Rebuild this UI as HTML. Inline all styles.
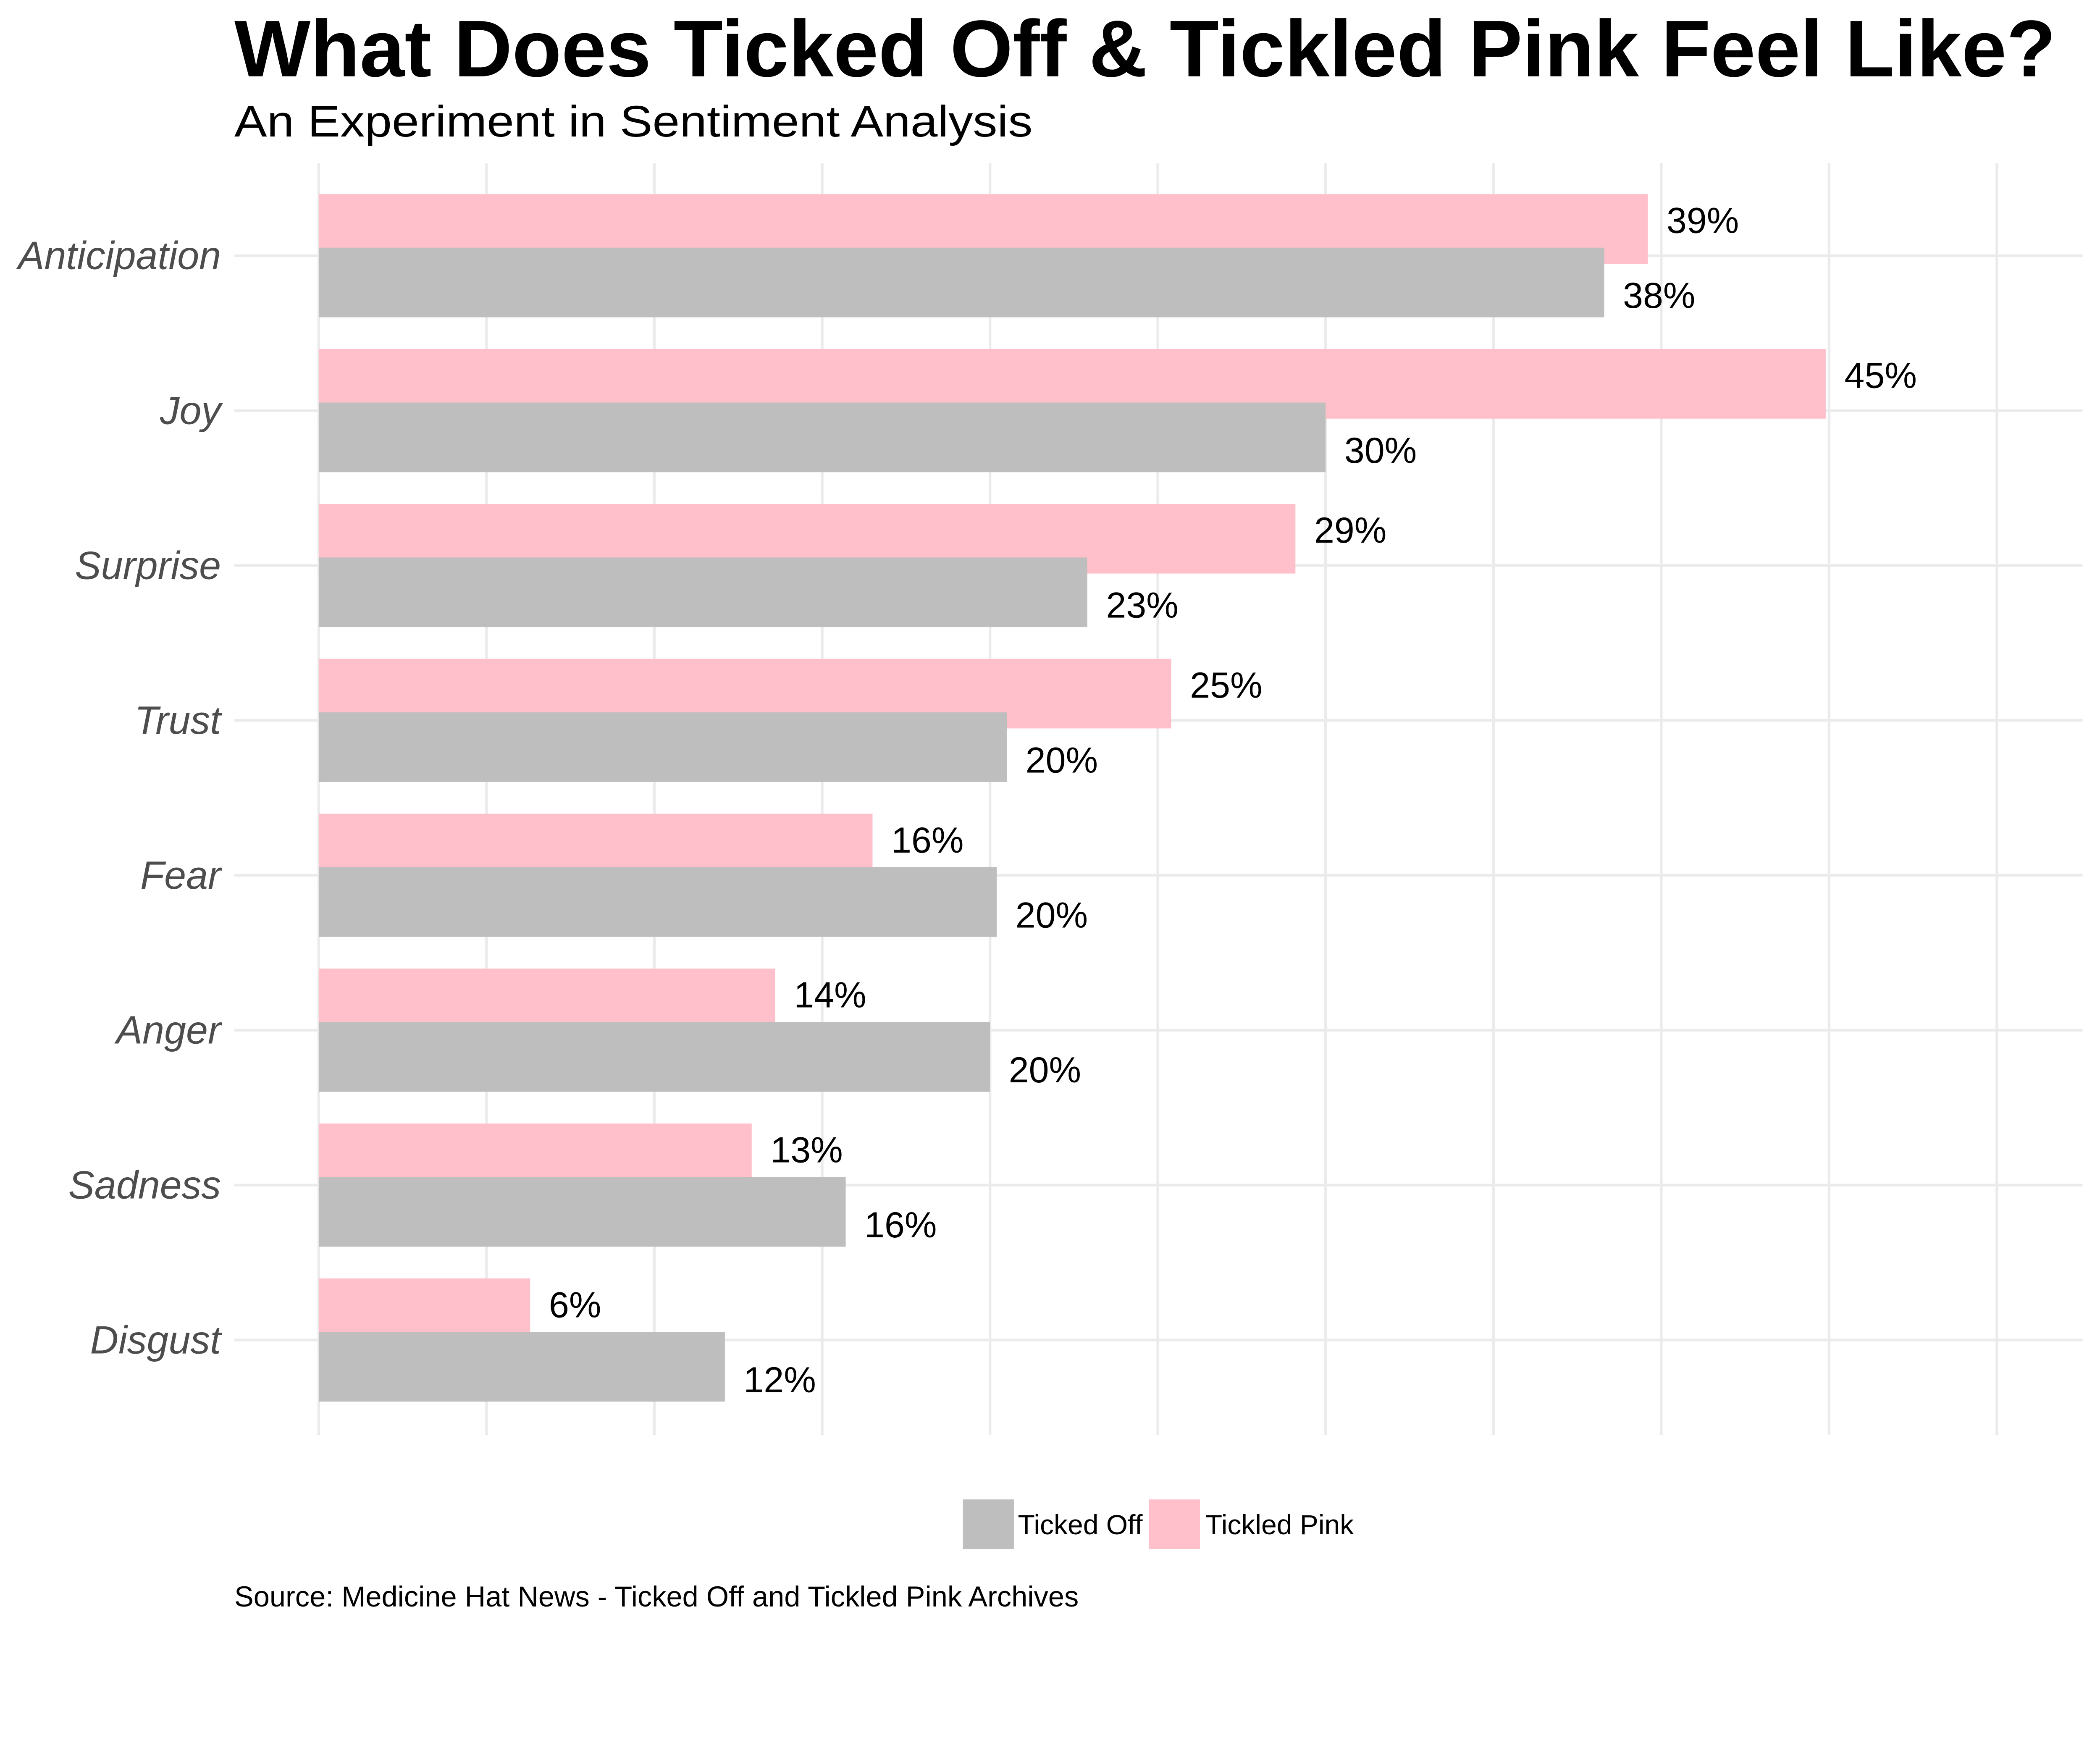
<!DOCTYPE html>
<html><head><meta charset="utf-8"><style>html,body{margin:0;padding:0;background:#fff;overflow:hidden}svg{display:block;width:100vw;height:77.7778vw}</style></head>
<body>
<svg id="chart" viewBox="0 0 1568 1220" preserveAspectRatio="none" xmlns="http://www.w3.org/2000/svg" font-family="'Liberation Sans', Arial, sans-serif">
<rect width="1568" height="1220" fill="#fff"/>
<text x="175" y="57" font-size="60" font-weight="bold" textLength="1360" lengthAdjust="spacingAndGlyphs">What Does Ticked Off &amp; Tickled Pink Feel Like?</text>
<text x="175" y="102" font-size="33" textLength="596" lengthAdjust="spacingAndGlyphs">An Experiment in Sentiment Analysis</text>
<g id="grid"></g>
<g id="bars"></g>
<g id="labels"></g>
<g>
<rect x="719" y="1120" width="38" height="37" fill="#bebebe"/>
<text x="760" y="1146" font-size="20.7">Ticked Off</text>
<rect x="858" y="1120" width="38" height="37" fill="#ffc0cb"/>
<text x="900" y="1146" font-size="20.7">Tickled Pink</text>
</g>
<text x="175" y="1200" font-size="21.5">Source: Medicine Hat News - Ticked Off and Tickled Pink Archives</text>
</svg>
<script>
const categories = ["Anticipation","Joy","Surprise","Trust","Fear","Anger","Sadness","Disgust"];
const pinkValues = [0.396,0.449,0.291,0.254,0.165,0.136,0.129,0.063];
const grayValues = [0.383,0.300,0.229,0.205,0.202,0.200,0.157,0.121];
const pinkLabels = ["39%","45%","29%","25%","16%","14%","13%","6%"];
const grayLabels = ["38%","30%","23%","20%","20%","20%","16%","12%"];
const xTicks = [0,0.05,0.1,0.15,0.2,0.25,0.3,0.35,0.4,0.45,0.5];

const NS = "http://www.w3.org/2000/svg";
const x0 = 238, xScale = 2506;
const xPos = v => x0 + v * xScale;
const yPos = i => 191 + i * 115.7;
function mk(tag, attrs, parent){const e=document.createElementNS(NS,tag);for(const k in attrs)e.setAttribute(k,attrs[k]);parent.appendChild(e);return e;}
const grid=document.getElementById('grid'), bars=document.getElementById('bars'), labels=document.getElementById('labels');
xTicks.forEach(t=>{
  const l=mk('line',{x1:xPos(t),x2:xPos(t),y1:122,y2:1072,stroke:'#ebebeb','stroke-width':2},grid);
  
  
});
categories.forEach((c,i)=>{
  const y=yPos(i);
  const g=mk('line',{x1:175,x2:1555,y1:y,y2:y,stroke:'#ebebeb','stroke-width':2},grid);
  
  
  const t=mk('text',{x:165,y:y+10,'font-size':29.3,'font-style':'italic',fill:'#4d4d4d','text-anchor':'end'},labels);
  t.textContent=c;
  
  
  const p=mk('rect',{x:x0,y:y-46,width:xPos(pinkValues[i])-x0,height:52,fill:'#ffc0cb'},bars);
  
  
  const gr=mk('rect',{x:x0,y:y-6,width:xPos(grayValues[i])-x0,height:52,fill:'#bebebe'},bars);
  
  
  const pl=mk('text',{x:xPos(pinkValues[i])+14,y:y-17,'font-size':27},labels);
  pl.textContent=pinkLabels[i];
  
  
  const gl=mk('text',{x:xPos(grayValues[i])+14,y:y+39,'font-size':27},labels);
  gl.textContent=grayLabels[i];
  
  
});
</script>
</body></html>
